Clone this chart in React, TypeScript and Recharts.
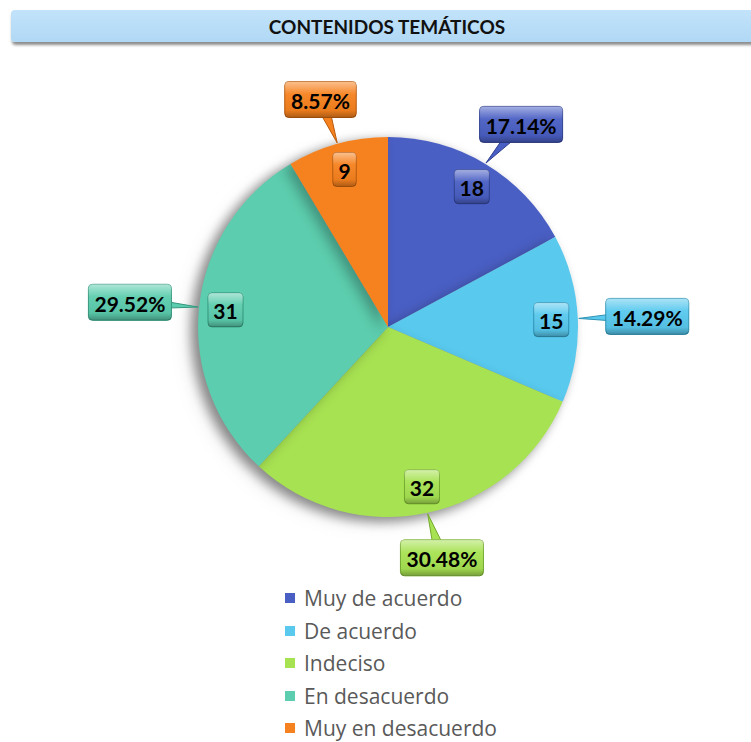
import { PieChart, Pie, Cell, Legend } from "recharts";

const categories = [
  "Muy de acuerdo",
  "De acuerdo",
  "Indeciso",
  "En desacuerdo",
  "Muy en desacuerdo",
];
const counts = [18, 15, 32, 31, 9];
const colors = ["#4a5fc4", "#59c9ee", "#a7e252", "#5ccdae", "#f6821f"];
const strokes = ["#2f3f8f", "#2f93b5", "#74a92e", "#34977d", "#b85a0c"];

const data = categories.map((name, i) => ({ name, value: counts[i] }));

const RAD = Math.PI / 180;
const FONT = "Lato, 'Open Sans', sans-serif";

function textW(s: string) {
  let w = 0;
  for (const ch of s) {
    if (ch === ".") w += 5;
    else if (ch === "%") w += 18;
    else w += 11.5;
  }
  return w;
}

function Box({ x, y, w, h, fill, stroke, text }: any) {
  return (
    <g>
      <rect x={x - w / 2} y={y - h / 2} width={w} height={h} rx={4} fill={fill} stroke={stroke} strokeWidth={1} />
      <rect x={x - w / 2} y={y - h / 2} width={w} height={h} rx={4} fill="url(#boxShine)" />
      <text
        x={x}
        y={y + 1}
        textAnchor="middle"
        dominantBaseline="central"
        fontFamily={FONT}
        fontWeight={700}
        fontSize={21}
        fill="#000"
      >
        {text}
      </text>
    </g>
  );
}

function renderLabel(props: any) {
  const { cx, cy, midAngle, outerRadius, percent, value, index } = props;
  const cos = Math.cos(-midAngle * RAD);
  const sin = Math.sin(-midAngle * RAD);
  const fill = colors[index];
  const stroke = strokes[index];

  // value box inside the slice
  const vr = outerRadius * 0.86;
  const vx = cx + vr * cos;
  const vy = cy + vr * sin;
  const vText = String(value);
  const vw = textW(vText) + 12;

  // percentage callout outside
  const pText = `${(percent * 100).toFixed(2)}%`;
  const pw = textW(pText) + 14;
  const ph = 36;
  const ar = outerRadius + 28;
  const px = cx + ar * cos + (pw / 2) * cos;
  const py = cy + ar * sin + (ph / 2) * sin;
  const tx = cx + (outerRadius + 1) * cos;
  const ty = cy + (outerRadius + 1) * sin;
  const dx = px - tx;
  const dy = py - ty;
  const len = Math.sqrt(dx * dx + dy * dy) || 1;
  const nx = (-dy / len) * 7;
  const ny = (dx / len) * 7;

  return (
    <g key={`lbl-${index}`}>
      <Box x={vx} y={vy} w={vw} h={34} fill={fill} stroke={stroke} text={vText} />
      <polygon
        points={`${tx},${ty} ${px + nx},${py + ny} ${px - nx},${py - ny}`}
        fill={fill}
        stroke={stroke}
        strokeWidth={1}
      />
      <Box x={px} y={py} w={pw} h={ph} fill={fill} stroke={stroke} text={pText} />
    </g>
  );
}

function LegendList() {
  return (
    <div style={{ display: "flex", flexDirection: "column", gap: 8.5 }}>
      {categories.map((c, i) => (
        <div key={c} style={{ display: "flex", alignItems: "center", height: 24 }}>
          <span style={{ width: 10, height: 10, background: colors[i], marginRight: 9 }} />
          <span style={{ fontFamily: "'Open Sans', sans-serif", fontSize: 21, color: "#595959", lineHeight: "24px" }}>{c}</span>
        </div>
      ))}
    </div>
  );
}

export default function App() {
  return (
    <div style={{ position: "fixed", left: 0, top: 0, width: 751, height: 742, background: "#fff", overflow: "hidden" }}>
      <style>{`.pie-main { filter: drop-shadow(-6px 4px 6px rgba(0,0,0,0.28)); }`}</style>
      <svg width={0} height={0} style={{ position: "absolute" }}>
        <defs>
          <linearGradient id="boxShine" x1="0" y1="0" x2="0" y2="1">
            <stop offset="0" stopColor="#fff" stopOpacity={0.5} />
            <stop offset="0.35" stopColor="#fff" stopOpacity={0.05} />
            <stop offset="0.8" stopColor="#000" stopOpacity={0.05} />
            <stop offset="1" stopColor="#000" stopOpacity={0.3} />
          </linearGradient>
        </defs>
      </svg>
      <div
        style={{
          position: "absolute",
          left: 11,
          top: 10,
          width: 760,
          height: 32,
          background: "linear-gradient(#c2e3fa, #b0d8f5)",
          borderRadius: 4,
          boxShadow: "1px 3px 3px rgba(0,0,0,0.45)",
          display: "flex",
          alignItems: "center",
        }}
      >
        <div
          style={{
            position: "absolute",
            left: 0,
            width: 752,
            textAlign: "center",
            fontFamily: FONT,
            fontWeight: 700,
            fontSize: 19,
            color: "#111",
          }}
        >
          CONTENIDOS TEMÁTICOS
        </div>
      </div>
      <div style={{ position: "absolute", left: 0, top: 0 }}>
        <PieChart width={751} height={742} margin={{ top: 0, right: 0, bottom: 0, left: 0 }}>
          <Pie
            data={data}
            dataKey="value"
            nameKey="name"
            cx={388}
            cy={327}
            outerRadius={190}
            startAngle={90}
            endAngle={-270}
            stroke="none"
            className="pie-main"
            label={renderLabel}
            labelLine={false}
            isAnimationActive={false}
          >
            {data.map((d, i) => (
              <Cell key={d.name} fill={colors[i]} />
            ))}
          </Pie>
          <Legend
            layout="vertical"
            content={() => <LegendList />}
            wrapperStyle={{ position: "absolute", left: 285, top: 586, width: 280 }}
          />
        </PieChart>
      </div>
    </div>
  );
}
